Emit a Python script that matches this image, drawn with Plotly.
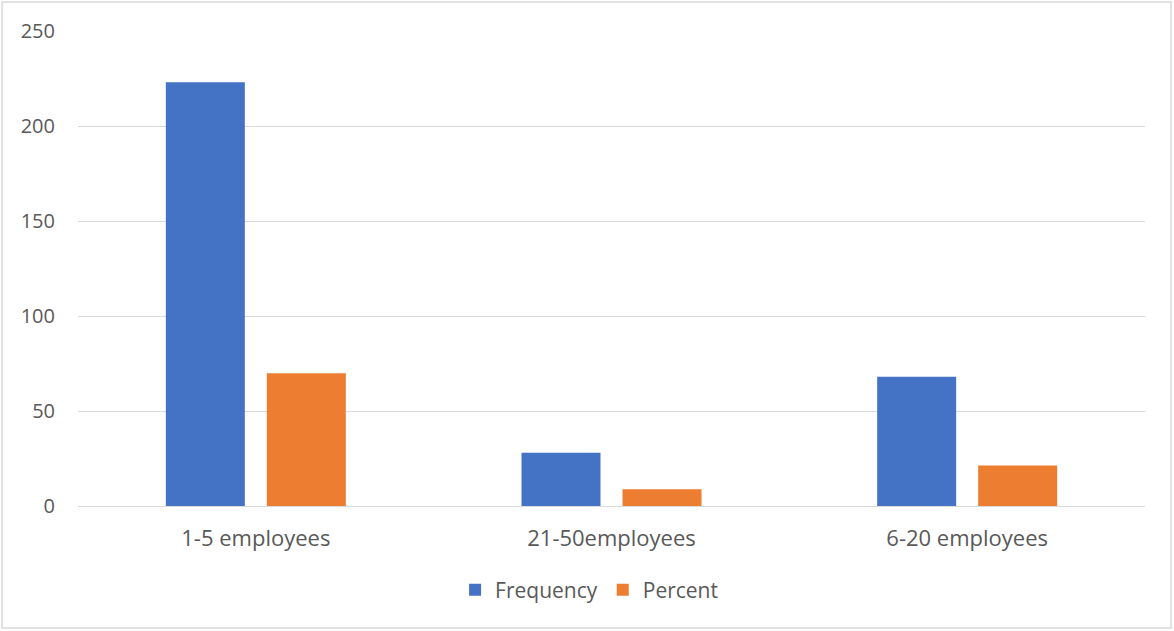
import plotly.graph_objects as go

categories = ["1-5 employees", "21-50employees", "6-20 employees"]
frequency = [223, 28, 68]
percent = [69.9, 8.8, 21.3]
y_ticks = [0, 50, 100, 150, 200, 250]

font_family = "Open Sans"
text_color = "#595959"

fig = go.Figure()
fig.add_trace(go.Bar(name="Frequency", x=categories, y=frequency,
                     marker=dict(color="#4472C4", line=dict(width=0))))
fig.add_trace(go.Bar(name="Percent", x=categories, y=percent,
                     marker=dict(color="#ED7D31", line=dict(width=0))))

fig.update_layout(
    width=1174, height=631,
    margin=dict(l=78, r=29, t=31, b=125),
    paper_bgcolor="white", plot_bgcolor="white",
    barmode="group", bargap=0.432, bargroupgap=0.218,
    font=dict(family=font_family, size=18, color=text_color),
    showlegend=True,
    legend=dict(orientation="h", x=0.479, xanchor="center", y=-0.177, yanchor="middle",
                font=dict(size=21, color=text_color), itemwidth=30, traceorder="normal"),
    xaxis=dict(showline=False, showgrid=False, ticks="", tickfont=dict(size=22, color=text_color),
               ticklabelstandoff=17),
    yaxis=dict(range=[0, 250], tickvals=y_ticks, showgrid=True, gridcolor="#d9d9d9", gridwidth=1,
               zeroline=True, zerolinecolor="#d9d9d9", zerolinewidth=1, showline=False,
               ticks="", tickfont=dict(size=20, color=text_color), ticklabelstandoff=22),
    shapes=[dict(type="rect", xref="paper", yref="paper", x0=-0.0712, x1=1.0244,
                 y0=-0.2568, y1=1.0611, line=dict(color="#d9d9d9", width=1.5),
                 fillcolor="rgba(0,0,0,0)", layer="below")],
)

fig.write_html("out.html")
